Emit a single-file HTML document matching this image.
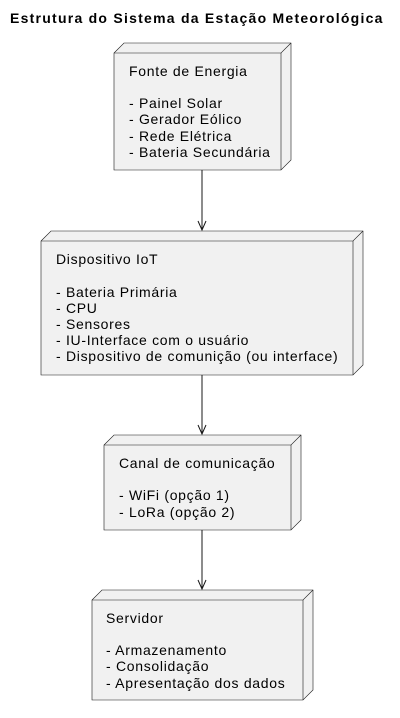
<!DOCTYPE html>
<html><head><meta charset="utf-8"><style>
html,body{margin:0;padding:0;background:#fff;}
svg{display:block;}
text{font-family:"Liberation Sans",sans-serif;font-size:14px;fill:#000;letter-spacing:0.7px;}
</style></head><body>
<svg width="400" height="718" viewBox="0 0 400 718" xmlns="http://www.w3.org/2000/svg">
<text x="10" y="23" style="font-weight:bold;font-size:14px;letter-spacing:1.25px">Estrutura do Sistema da Estação Meteorológica</text>
<g fill="#f1f1f1" stroke="#181818" stroke-width="0.6">
<polygon points="114,53 124,43 291,43 291,160 281,170 114,170"/>
<polyline points="114,53 281,53 291,43" fill="none"/><line x1="281" y1="53" x2="281" y2="170"/>
<polygon points="41,241 51,231 363,231 363,365 353,375 41,375"/>
<polyline points="41,241 353,241 363,231" fill="none"/><line x1="353" y1="241" x2="353" y2="375"/>
<polygon points="104,445 114,435 301,435 301,520 291,530 104,530"/>
<polyline points="104,445 291,445 301,435" fill="none"/><line x1="291" y1="445" x2="291" y2="530"/>
<polygon points="92,600 102,590 313,590 313,690 303,700 92,700"/>
<polyline points="92,600 303,600 313,590" fill="none"/><line x1="303" y1="600" x2="303" y2="700"/>
</g>
<g stroke="#181818" stroke-width="1" fill="none">
<line x1="202" y1="170" x2="202" y2="230"/><polyline points="198,221 202,230 206,221"/>
<line x1="202" y1="375" x2="202" y2="434"/><polyline points="198,425 202,434 206,425"/>
<line x1="202" y1="530" x2="202" y2="589"/><polyline points="198,580 202,589 206,580"/>
</g>
<text x="129" y="76">Fonte de Energia</text>
<text x="129" y="108">- Painel Solar</text>
<text x="129" y="124">- Gerador Eólico</text>
<text x="129" y="141">- Rede Elétrica</text>
<text x="129" y="157">- Bateria Secundária</text>

<text x="56" y="264">Dispositivo IoT</text>
<text x="56" y="297">- Bateria Primária</text>
<text x="56" y="313">- CPU</text>
<text x="56" y="329">- Sensores</text>
<text x="56" y="345">- IU-Interface com o usuário</text>
<text x="56" y="361">- Dispositivo de comunição (ou interface)</text>

<text x="119" y="468">Canal de comunicação</text>
<text x="119" y="500">- WiFi (opção 1)</text>
<text x="119" y="517">- LoRa (opção 2)</text>

<text x="106" y="623">Servidor</text>
<text x="106" y="655">- Armazenamento</text>
<text x="106" y="671">- Consolidação</text>
<text x="106" y="688">- Apresentação dos dados</text>
</svg>
</body></html>
